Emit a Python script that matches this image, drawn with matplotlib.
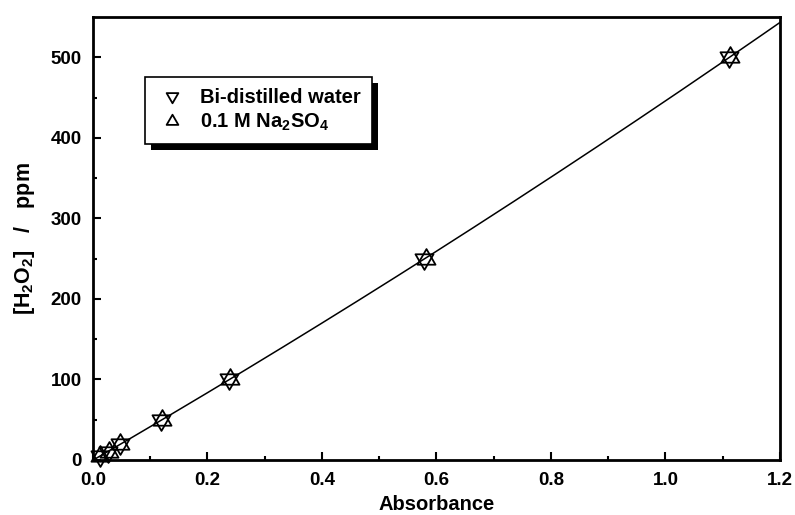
import numpy as np
import matplotlib
matplotlib.use("Agg")
import matplotlib.pyplot as plt
from matplotlib.patches import Rectangle
from matplotlib.path import Path

plt.rcParams['font.family'] = ['Liberation Sans', 'DejaVu Sans']
plt.rcParams['font.weight'] = 'bold'
plt.rcParams['mathtext.fontset'] = 'custom'
plt.rcParams['mathtext.rm'] = 'Liberation Sans:bold'
plt.rcParams['mathtext.bf'] = 'Liberation Sans:bold'
plt.rcParams['mathtext.it'] = 'Liberation Sans:bold'
plt.rcParams['mathtext.default'] = 'bf'

# Data
ppm = [5, 10, 20, 50, 100, 250, 500]
abs_water = [0.012, 0.027, 0.047, 0.119, 0.238, 0.579, 1.111]
abs_na2so4 = [0.013, 0.028, 0.048, 0.121, 0.240, 0.581, 1.113]
series_labels = ['Bi-distilled water', '0.1 M Na$_2$SO$_4$']
x_ticks = [0.0, 0.2, 0.4, 0.6, 0.8, 1.0, 1.2]
y_ticks = [0, 100, 200, 300, 400, 500]

# centroid-centred triangles so that up+down overlap as a hexagram
tri_up = Path([(0, 1), (-0.866, -0.5), (0.866, -0.5), (0, 1)],
              [Path.MOVETO, Path.LINETO, Path.LINETO, Path.CLOSEPOLY])
tri_dn = Path([(0, -1), (-0.866, 0.5), (0.866, 0.5), (0, -1)],
              [Path.MOVETO, Path.LINETO, Path.LINETO, Path.CLOSEPOLY])

fig = plt.figure(figsize=(7.95, 5.15), dpi=100)
ax = fig.add_axes([0.117, 0.107, 0.864, 0.860])

# quadratic calibration fit through all points
xa = np.array(abs_water + abs_na2so4)
ya = np.array(ppm + ppm, dtype=float)
coef = np.polyfit(xa, ya, 2)
xf = np.linspace(0, 1.2, 200)
ax.plot(xf, np.polyval(coef, xf), color='black', lw=1.1, zorder=2)

ax.plot(abs_water, ppm, linestyle='none', marker=tri_dn, ms=15, mfc='none',
        mec='black', mew=1.3, label=series_labels[0], zorder=3, clip_on=False)
ax.plot(abs_na2so4, ppm, linestyle='none', marker=tri_up, ms=15, mfc='none',
        mec='black', mew=1.3, label=series_labels[1], zorder=3, clip_on=False)

ax.set_xlim(0, 1.2)
ax.set_ylim(0, 550)
ax.set_xticks(x_ticks)
ax.set_xticklabels([f'{v:.1f}' for v in x_ticks])
ax.set_yticks(y_ticks)
ax.set_xticks(np.arange(0.1, 1.2, 0.2), minor=True)
ax.set_yticks(np.arange(50, 550, 100), minor=True)
ax.tick_params(which='both', direction='in', width=1.5, labelsize=13.5)
ax.tick_params(which='major', length=6)
ax.tick_params(which='minor', length=3)
ax.tick_params(axis='x', pad=9)
ax.tick_params(axis='y', pad=8)
for s in ax.spines.values():
    s.set_linewidth(2)

ax.set_xlabel('Absorbance', fontsize=14.5, fontweight='bold', labelpad=4)
ax.set_ylabel('[H$_2$O$_2$]   /   ppm', fontsize=15.5, fontweight='bold', labelpad=10)

leg = ax.legend(loc='upper left', bbox_to_anchor=(0.075, 0.865), frameon=True,
                fancybox=False, edgecolor='black', fontsize=14.5,
                handletextpad=0.6, borderpad=0.55, labelspacing=0.25,
                handlelength=1.6, markerscale=0.65, borderaxespad=0)
leg.get_frame().set_linewidth(1.2)
leg.get_frame().set_alpha(1)
fig.canvas.draw()
bb = leg.get_window_extent().transformed(fig.transFigure.inverted())
shadow = Rectangle((bb.x0 + 6/795, bb.y0 - 6/515), bb.width, bb.height,
                   transform=fig.transFigure, facecolor='black', edgecolor='none',
                   zorder=leg.get_zorder() - 0.1)
ax.add_artist(shadow)
shadow.set_in_layout(False)

fig.savefig('out.png', dpi=100)
